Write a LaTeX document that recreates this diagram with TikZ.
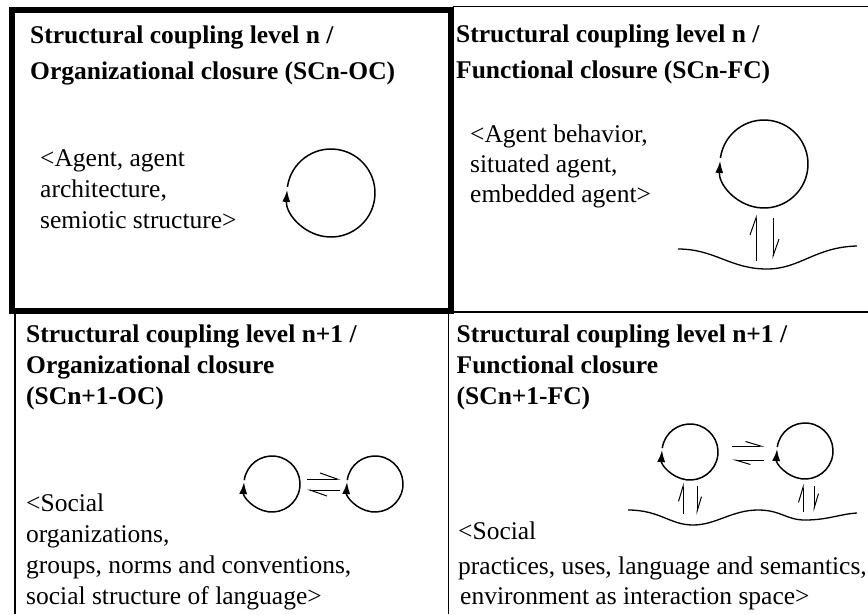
\documentclass[tikz,border=0pt]{standalone}
\usepackage{fontspec}
\setmainfont{Liberation Serif}
\usetikzlibrary{arrows.meta}
\tikzset{
  celltitle/.style={anchor=base west, inner sep=0pt, align=left,
    font=\bfseries\fontsize{25.5}{#1}\selectfont},
  celltitle/.default=36,
  celltext/.style={anchor=base west, inner sep=0pt, align=left,
    font=\fontsize{25.5}{#1}\selectfont},
  celltext/.default=31,
  cellrule/.style={line width=1.5pt},
  closure/.style={line width=1.5pt, -{Latex[length=12pt,width=8pt]}},
  coupling/.style={line width=1pt, -{Straight Barb[left,length=17pt,width=12pt]}},
  small coupling/.style={line width=1pt, -{Straight Barb[left,length=15pt,width=9pt]}},
  ground/.style={line width=1.3pt},
}
\begin{document}
\begin{tikzpicture}[x=1pt,y=-1pt]
\useasboundingbox (0,0) rectangle (868,614);
% table
\draw[line width=6pt] (12,9.5) rectangle (450.5,311);
\draw[cellrule] (453,6.5) -- (868,6.5);
\draw[cellrule] (453,312) -- (868,312);
\draw[cellrule] (15,314) -- (15,614);
\draw[cellrule] (448.5,314) -- (448.5,614);

% SCn-OC (node anchored at the baseline of its last line)
\node[celltitle] (ocTitle) at (30,79) {Structural coupling level n /\\Organizational closure (SCn-OC)};
\node[celltext] (ocText) at (40,228) {<Agent, agent\\architecture,\\semiotic structure>};
\coordinate (ocLoop) at (331,193);
\draw[closure] (ocLoop) ++(172:44pt) arc[start angle=172, end angle=-184, radius=44pt];

% SCn-FC
\node[celltitle] (fcTitle) at (456,78) {Structural coupling level n /\\Functional closure (SCn-FC)};
\node[celltext=30] (fcText) at (470,202) {<Agent behavior,\\situated agent,\\embedded agent>};
\coordinate (fcLoop) at (764,164);
\draw[closure] (fcLoop) ++(172:44pt) arc[start angle=172, end angle=-184, radius=44pt];
\draw[coupling] (756,261) -- (756,215);
\draw[coupling] (773,218) -- (773,259);
\draw[ground] (678,249) .. controls (715,249) and (730,269) .. (767,269)
  .. controls (800,269) and (815,247) .. (857,246);

% SCn+1-OC
\node[celltitle=31] (soTitle) at (26,404) {Structural coupling level n+1 /\\Organizational closure\\(SCn+1-OC)};
\node[celltext=30.7] (soText) at (26,604) {<Social\\organizations,\\groups, norms and conventions,\\social structure of language>};
\coordinate (soLoopA) at (272,484);
\coordinate (soLoopB) at (375,484);
\draw[closure] (soLoopA) ++(172:28pt) arc[start angle=172, end angle=-184, radius=28pt];
\draw[closure] (soLoopB) ++(172:28pt) arc[start angle=172, end angle=-184, radius=28pt];
\draw[coupling] (307,479) -- (340,479);
\draw[coupling] (340,490) -- (307,490);

% SCn+1-FC
\node[celltitle=31] (sfTitle) at (456.5,404) {Structural coupling level n+1 /\\Functional closure\\(SCn+1-FC)};
\node[celltext=30] (sfText) at (458,604) {<Social\\[5pt]practices, uses, language and semantics,\\\hspace*{2pt}environment as interaction space>};
\coordinate (sfLoopA) at (690,452);
\coordinate (sfLoopB) at (805,451);
\draw[closure] (sfLoopA) ++(172:28pt) arc[start angle=172, end angle=-184, radius=28pt];
\draw[closure] (sfLoopB) ++(172:28pt) arc[start angle=172, end angle=-184, radius=28pt];
\draw[small coupling] (732,446) -- (764,446);
\draw[small coupling] (764,460) -- (732,460);
\draw[small coupling] (683,514) -- (683,483);
\draw[small coupling] (697,486) -- (697,515);
\draw[small coupling] (803,512) -- (803,484);
\draw[small coupling] (814,486) -- (814,512);
\draw[ground] (628,510) .. controls (660,510) and (670,525) .. (693,525)
  .. controls (716,525) and (732,510) .. (758,510)
  .. controls (781,510) and (786,520) .. (805,520)
  .. controls (828,520) and (840,514) .. (857,513);
\end{tikzpicture}
\end{document}
